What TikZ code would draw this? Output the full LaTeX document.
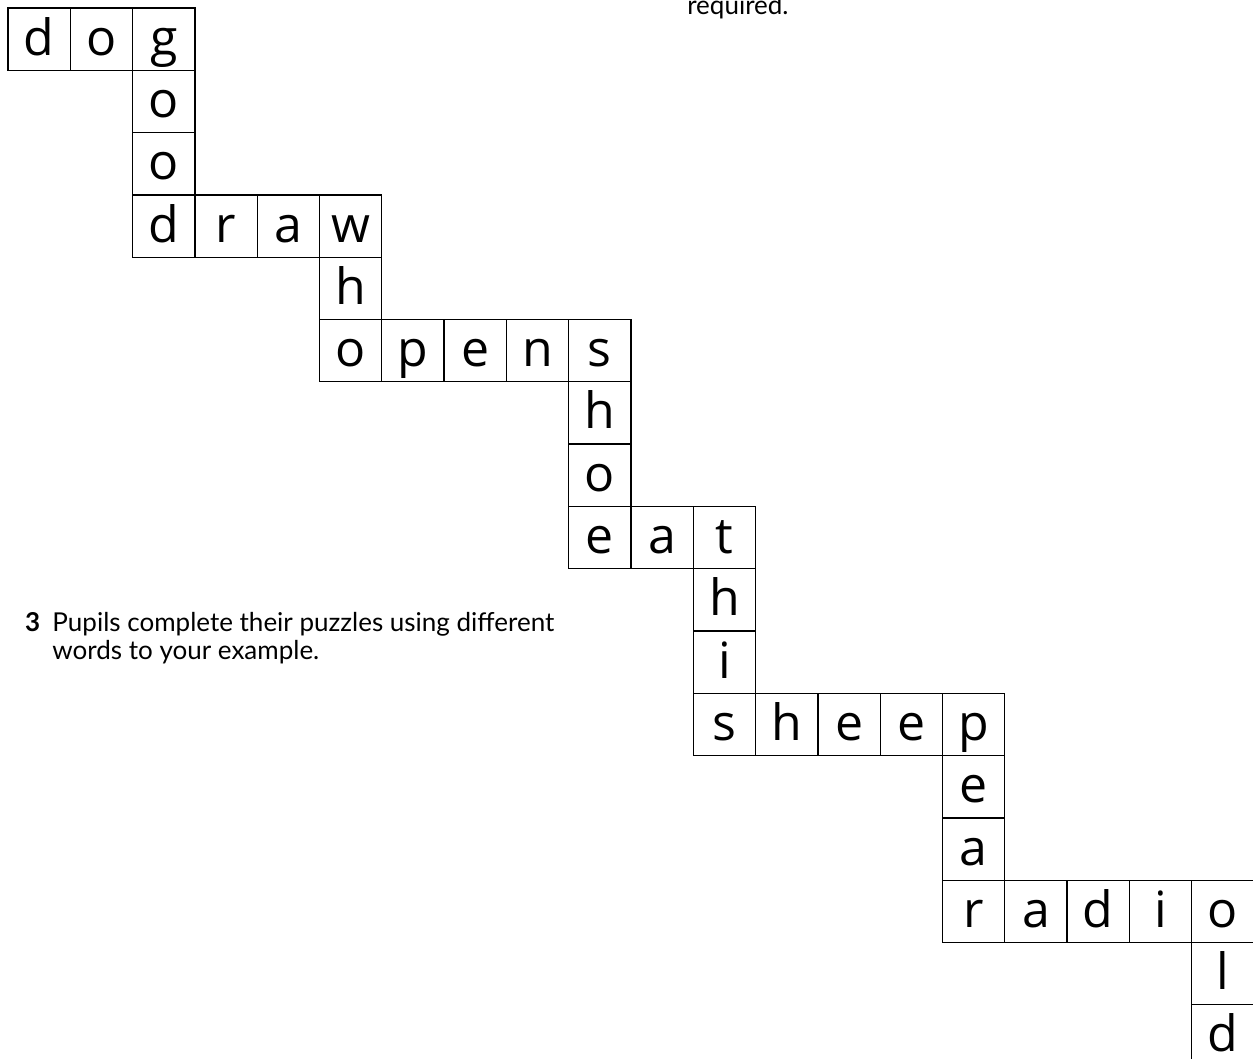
\documentclass[tikz,border=0pt]{standalone}
\usepackage{fontspec}
\setmainfont{Open Sans}
\newfontfamily\notefont{Lato}
\usetikzlibrary{positioning}
\tikzset{
  cell/.style = {draw, line width=1.3pt, minimum size=62.3pt, inner sep=0pt,
                 font=\fontsize{50}{50}\selectfont, text height=42pt, text depth=10pt},
  note/.style = {anchor=base west, inner sep=0pt, font=\notefont\fontsize{26}{30}\selectfont}
}
\begin{document}
\begin{tikzpicture}[x=62.3pt, y=-62.3pt]
  \useasboundingbox (-0.1284,-0.1284) rectangle (19.984,16.854);
  % word chain, one cell per letter (column/row/letter)
  \foreach \c/\r/\l in {0/0/d, 1/0/o, 2/0/g, 2/1/o, 2/2/o,
                        2/3/d, 3/3/r, 4/3/a, 5/3/w, 5/4/h,
                        5/5/o, 6/5/p, 7/5/e, 8/5/n, 9/5/s,
                        9/6/h, 9/7/o, 9/8/e, 10/8/a, 11/8/t,
                        11/9/h, 11/10/i, 11/11/s, 12/11/h, 13/11/e,
                        14/11/e, 15/11/p, 15/12/e, 15/13/a, 15/14/r,
                        16/14/a, 17/14/d, 18/14/i, 19/14/o, 19/15/l,
                        19/16/d}
    \node[cell] (c\c-\r) at (\c+0.5,\r+0.5) {\l};
  \node[note] (req)   at (10.9,0.11)   {required.};
  \node[note] (num)   at (0.27,10.0)   {\textbf{3}};
  \node[note] (line1) at (0.71,10.0)   {Pupils complete their puzzles using different};
  \node[note] (line2) at (0.71,10.465) {words to your example.};
\end{tikzpicture}
\end{document}
